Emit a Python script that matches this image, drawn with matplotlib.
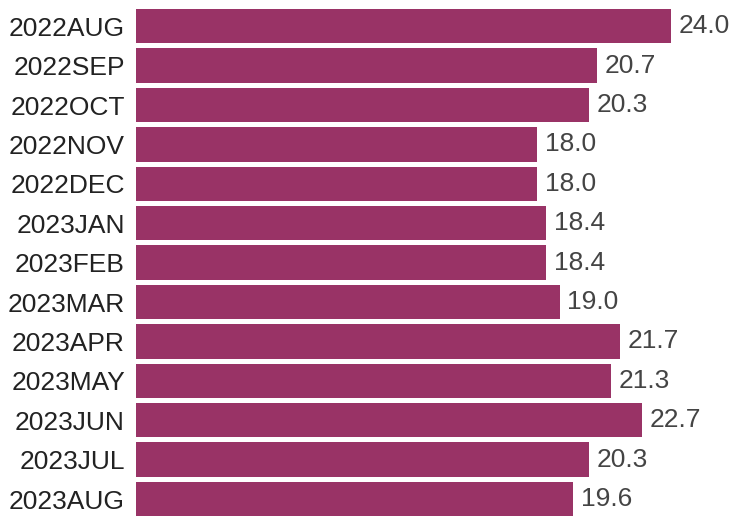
import matplotlib
matplotlib.use("Agg")
import matplotlib.pyplot as plt

categories = ["2022AUG", "2022SEP", "2022OCT", "2022NOV", "2022DEC", "2023JAN",
              "2023FEB", "2023MAR", "2023APR", "2023MAY", "2023JUN", "2023JUL", "2023AUG"]
values = [24.0, 20.7, 20.3, 18.0, 18.0, 18.4, 18.4, 19.0, 21.7, 21.3, 22.7, 20.3, 19.6]

plt.rcParams['font.family'] = ['Liberation Sans', 'DejaVu Sans']

fig = plt.figure(figsize=(7.31, 5.16), dpi=100)
ax = fig.add_axes([136/731, 0, 1 - 136/731, 1])
pos = list(range(len(categories)))
ax.barh(pos, values, height=0.875, color="#993366")
ax.set_ylim(12.43, -0.666)
ax.set_xlim(0, 26.69)
ax.set_yticks(pos)
ax.set_yticklabels(categories, fontsize=19, color="#222222")
ax.tick_params(axis='y', length=0, pad=8)
ax.set_xticks([])
for s in ax.spines.values():
    s.set_visible(False)
for p, v in zip(pos, values):
    ax.annotate(f"{v:.1f}", (v, p), xytext=(5.5, 0), textcoords="offset points",
                ha="left", va="center", fontsize=19, color="#444444")
fig.savefig("out.png", dpi=100)
